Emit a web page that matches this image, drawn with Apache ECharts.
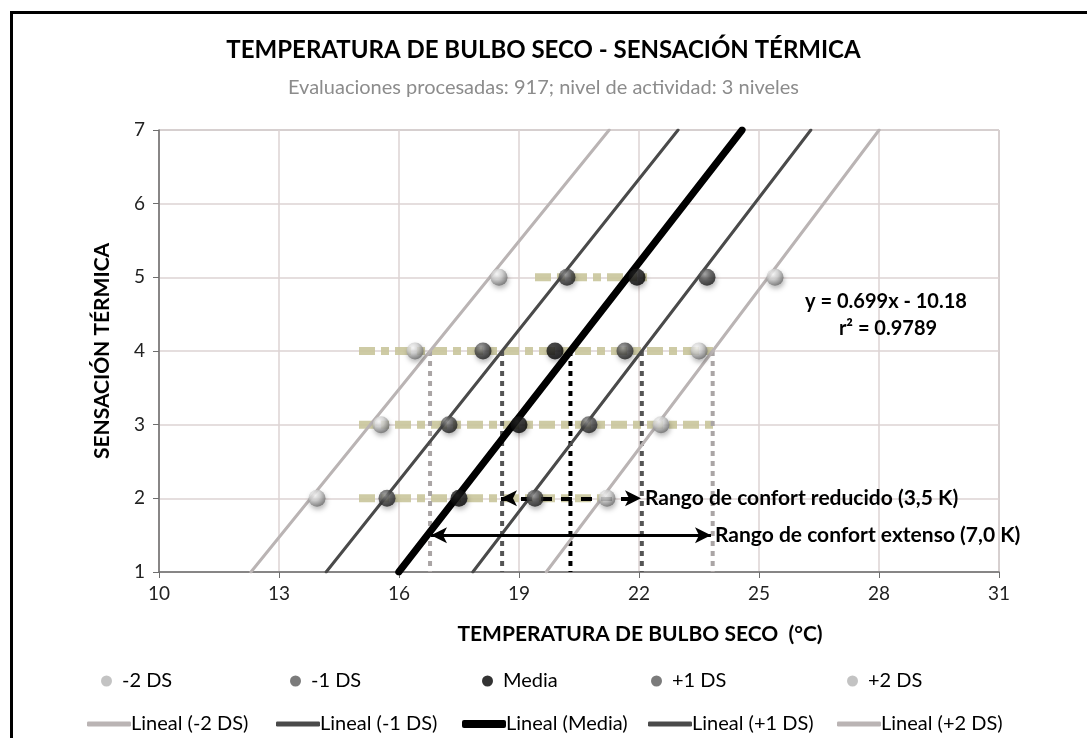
<!DOCTYPE html>
<html><head><meta charset="utf-8">
<script src="https://cdn.jsdelivr.net/npm/echarts@6/dist/echarts.min.js"></script>
<style>html,body{margin:0;padding:0;background:#fff}#c{width:1087px;height:738px}</style>
</head><body><div id="c"></div>
<script>
// ---- data ----
const levels = [2, 3, 4, 5];
const neg2 = [13.95, 15.55, 16.4, 18.5];
const neg1 = [15.7, 17.25, 18.1, 20.2];
const media = [17.5, 19.0, 19.9, 21.95];
const pos1 = [19.4, 20.75, 21.65, 23.7];
const pos2 = [21.2, 22.55, 23.5, 25.4];
const pointNames = ['-2 DS', '-1 DS', 'Media', '+1 DS', '+2 DS'];
const trendNames = ['Lineal (-2 DS)', 'Lineal (-1 DS)', 'Lineal (Media)', 'Lineal (+1 DS)', 'Lineal (+2 DS)'];
const trendSlope = [0.670, 0.682, 0.699, 0.710, 0.721];
const trendIntercept = [-7.24, -8.67, -10.18, -11.67, -13.19];
const bandStart = [15.0, 15.0, 15.0, 19.4];
const bandEnd = [21.1, 23.85, 23.9, 22.2];
const xTicks = [10, 13, 16, 19, 22, 25, 28, 31];
const yTicks = [1, 2, 3, 4, 5, 6, 7];
const dropLevel = 4;
const reducedRange = [18.55, 22.05];
const reducedLevel = 2;
const extendedRange = [16.8, 23.8];
const extendedLevel = 1.5;
const reducedLabel = 'Rango de confort reducido (3,5 K)';
const extendedLabel = 'Rango de confort extenso (7,0 K)';
const eqText = 'y = 0.699x - 10.18';
const r2Text = 'r² = 0.9789';

// ---- styles ----
const FONT = 'Lato';
const pointSeriesX = [neg2, neg1, media, pos1, pos2];
const lightBall = {type:'radial', x:0.38, y:0.32, r:0.7, colorStops:[{offset:0,color:'#ffffff'},{offset:0.45,color:'#d0d0d0'},{offset:1,color:'#6a6a6a'}]};
const darkBall = {type:'radial', x:0.38, y:0.32, r:0.7, colorStops:[{offset:0,color:'#9a9a9a'},{offset:0.5,color:'#4a4a4a'},{offset:1,color:'#1a1a1a'}]};
const blackBall = {type:'radial', x:0.38, y:0.32, r:0.7, colorStops:[{offset:0,color:'#262626'},{offset:1,color:'#000000'}]};
const ballFills = [lightBall, darkBall, blackBall, darkBall, lightBall];
const legendBallColors = ['#b4b4b4', '#5a5a5a', '#000000', '#5a5a5a', '#b4b4b4'];
const trendColors = ['#bab4b4', '#4a4a4a', '#000000', '#4a4a4a', '#bab4b4'];
const trendWidths = [3, 3, 7, 3, 3];
const legendLineH = [5, 5, 8, 5, 5];
const dropColors = ['#aaa5a5', '#555555', '#000000', '#555555', '#aaa5a5'];

const xMin = xTicks[0], xMax = xTicks[xTicks.length-1];
const yMin = yTicks[0], yMax = yTicks[yTicks.length-1];
const xAt = (i, y) => (y - trendIntercept[i]) / trendSlope[i];

const series = [];
// khaki dashed bands
levels.forEach((lv, k) => {
  series.push({
    type:'line', silent:true, symbol:'none', z:1,
    data:[[bandStart[k], lv],[bandEnd[k], lv]],
    lineStyle:{color:'#c9c59b', width:8, type:[16,6,8,6], opacity:0.9}
  });
});
// vertical dotted drop lines from the trend lines at level 4
for (let i=0;i<5;i++){
  series.push({
    type:'line', silent:true, symbol:'none', z:2,
    data:[[xAt(i, dropLevel), dropLevel],[xAt(i, dropLevel), yMin]],
    lineStyle:{color:dropColors[i], width:4, type:[5,5]}
  });
}
// trend lines
for (let i=0;i<5;i++){
  series.push({
    name:trendNames[i], type:'line', symbol:'none', z:3, silent:true,
    data:[[xAt(i, yMin), yMin],[xAt(i, yMax), yMax]],
    lineStyle:{color:trendColors[i], width:trendWidths[i], cap:'round'},
    itemStyle:{color:trendColors[i]}
  });
}
// scatter points
for (let i=0;i<5;i++){
  series.push({
    name:pointNames[i], type:'scatter', z:5, symbol:'circle', symbolSize:17,
    data: levels.map((lv,k)=>[pointSeriesX[i][k], lv]),
    itemStyle:{color:ballFills[i], shadowBlur:5, shadowColor:'rgba(0,0,0,0.35)', shadowOffsetX:1, shadowOffsetY:3}
  });
}
// comfort range arrows
series.push({
  type:'line', data:[], silent:true, z:6,
  markLine:{
    silent:true, symbol:['arrow','arrow'], symbolSize:[12,16], animation:false,
    data:[
      [{coord:[reducedRange[0], reducedLevel], lineStyle:{color:'#000', width:4, type:[11,9]}},
       {coord:[reducedRange[1], reducedLevel], label:{show:true, formatter:reducedLabel}}],
      [{coord:[extendedRange[0], extendedLevel], lineStyle:{color:'#000', width:3, type:'solid'}},
       {coord:[extendedRange[1], extendedLevel], label:{show:true, formatter:extendedLabel}}]
    ],
    label:{show:true, position:'end', distance:4, color:'#000', fontFamily:FONT, fontWeight:'bold', fontSize:21},
    lineStyle:{color:'#000'}
  }
});

// legends, one per item for exact placement
const legends = [];
const row1Left = [96, 285, 477, 646, 842];
const row2Left = [82, 271, 457, 643, 832];
for (let i=0;i<5;i++){
  legends.push({data:[{name:pointNames[i], icon:'circle', itemStyle:{color:legendBallColors[i]}}], left:row1Left[i], top:666, itemWidth:11, itemHeight:11,
    textStyle:{fontFamily:FONT, fontSize:20, color:'#000', padding:[0,0,0,5]}, selectedMode:false});
  legends.push({data:[{name:trendNames[i], icon:'roundRect', itemStyle:{color:trendColors[i], borderWidth:0}}], left:row2Left[i], top:709, itemWidth:44, itemHeight:legendLineH[i],
    textStyle:{fontFamily:FONT, fontSize:20, color:'#000', padding:[0,0,0,-5]}, selectedMode:false});
}

const option = {
  animation:false,
  backgroundColor:'#ffffff',
  title:{
    text:'TEMPERATURA DE BULBO SECO - SENSACIÓN TÉRMICA',
    subtext:'Evaluaciones procesadas: 917; nivel de actividad: 3 niveles',
    left:'center', top:33, itemGap:16,
    textStyle:{fontFamily:FONT, fontSize:24, fontWeight:'bold', color:'#000'},
    subtextStyle:{fontFamily:FONT, fontSize:20, color:'#8c8c8c'}
  },
  legend:legends,
  grid:{left:159, right:88, top:130, bottom:166, show:true, borderColor:'#8a8a8a', borderWidth:1},
  xAxis:{
    type:'value', min:xMin, max:xMax, interval:3,
    axisLine:{show:true, onZero:false, lineStyle:{color:'#6e6e6e', width:1.5}},
    axisTick:{show:true, length:6, lineStyle:{color:'#6e6e6e'}},
    axisLabel:{fontFamily:FONT, fontSize:19, color:'#222', margin:12},
    splitLine:{show:true, lineStyle:{color:'#dcd3d3', width:1.5}}
  },
  yAxis:{
    type:'value', min:yMin, max:yMax, interval:1,
    name:'SENSACIÓN TÉRMICA', nameLocation:'middle', nameGap:46,
    nameTextStyle:{fontFamily:FONT, fontSize:21, fontWeight:'bold', color:'#000'},
    axisLine:{show:true, onZero:false, lineStyle:{color:'#6e6e6e', width:1.5}},
    axisTick:{show:true, length:6, lineStyle:{color:'#6e6e6e'}},
    axisLabel:{fontFamily:FONT, fontSize:19, color:'#222', margin:14},
    splitLine:{show:true, lineStyle:{color:'#dcd3d3', width:1.5}}
  },
  graphic:[
    {type:'rect', left:9, top:10, shape:{width:1200, height:1000}, style:{fill:null, stroke:'#000', lineWidth:3}, silent:true, z:100},
    {type:'text', x:640, y:634, style:{text:'TEMPERATURA DE BULBO SECO  (°C)', align:'center', verticalAlign:'middle', fontFamily:FONT, fontSize:21, fontWeight:'bold', fill:'#000'}, silent:true},
    {type:'text', x:886, y:302, style:{text:eqText, align:'center', verticalAlign:'middle', fontFamily:FONT, fontSize:20, fontWeight:'bold', fill:'#000'}, silent:true, z:50},
    {type:'text', x:888, y:329, style:{text:r2Text, align:'center', verticalAlign:'middle', fontFamily:FONT, fontSize:20, fontWeight:'bold', fill:'#000'}, silent:true, z:50}
  ],
  series:series
};
const chart = echarts.init(document.getElementById('c'));
chart.setOption(option);
</script>
</body></html>
